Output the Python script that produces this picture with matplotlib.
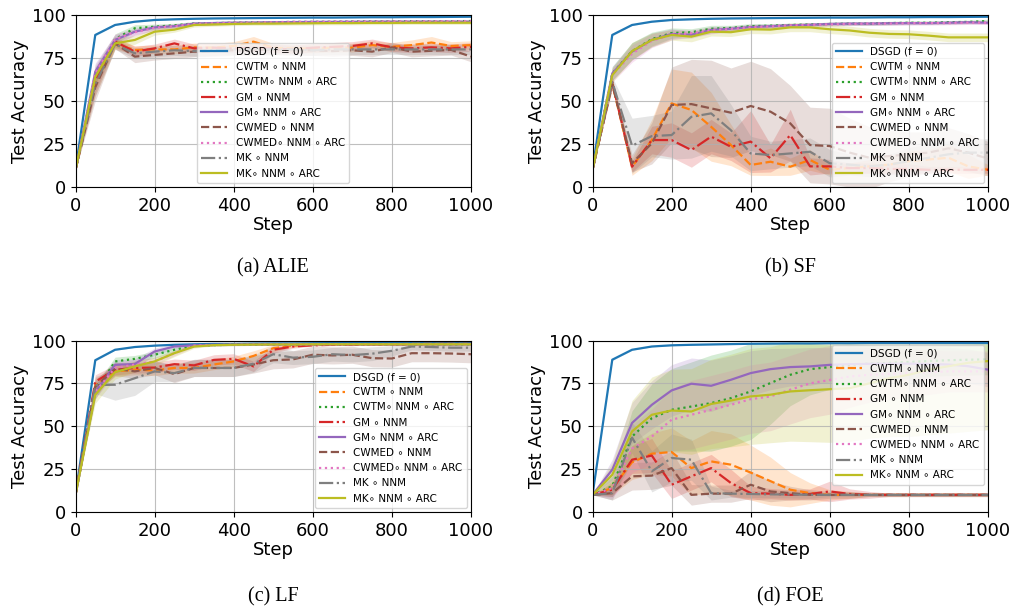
import matplotlib
matplotlib.use("Agg")
import matplotlib.pyplot as plt

STEPS = [0, 50, 100, 150, 200, 250, 300, 350, 400, 450, 500,
         550, 600, 650, 700, 750, 800, 850, 900, 950, 1000]

LABELS = ["DSGD (f = 0)", "CWTM \u2218 NNM", "CWTM\u2218 NNM \u2218 ARC", "GM \u2218 NNM",
          "GM\u2218 NNM \u2218 ARC", "CWMED \u2218 NNM", "CWMED\u2218 NNM \u2218 ARC",
          "MK \u2218 NNM", "MK\u2218 NNM \u2218 ARC"]
COLORS = ["#1f77b4", "#ff7f0e", "#2ca02c", "#d62728", "#9467bd",
          "#8c564b", "#e377c2", "#7f7f7f", "#bcbd22"]
STYLES = ["-", "--", ":", "-.", "-", "--", ":", "-.", "-"]
CAPTIONS = ["(a) ALIE", "(b) SF", "(c) LF", "(d) FOE"]

# ---------------- (a) ALIE ----------------
ALIE_DSGD = [10, 88.4, 94.2, 96.1, 97.1, 97.5, 97.8, 98, 98.1, 98.2, 98.3, 98.4, 98.5, 98.5, 98.6, 98.7, 98.7, 98.8, 98.8, 98.9, 99]
ALIE_CWTM = [10, 60, 83, 79.7, 80, 80, 81.2, 81, 82, 84.5, 81, 80.5, 80.5, 81, 81, 82.5, 81.5, 82.5, 84, 82, 82.5]
ALIE_CWTM_ARC = [10, 65, 86, 92.3, 93.2, 94, 95.1, 95.3, 95.5, 95.7, 95.8, 96, 96, 96.1, 96.2, 96.3, 96.3, 96.4, 96.4, 96.4, 96.5]
ALIE_GM = [10, 62, 84.5, 78.7, 80.6, 83.5, 80.6, 81, 80.5, 81, 80.5, 80, 81, 81.5, 82, 83.5, 81.2, 80.6, 81.2, 80.6, 81.5]
ALIE_GM_ARC = [10, 67, 85.5, 90.3, 92.8, 93.5, 95, 95.3, 95.5, 95.6, 95.8, 95.9, 96, 96, 96, 96.1, 96.1, 96.1, 96.1, 96.1, 96.1]
ALIE_CWMED = [10, 58, 83.5, 75.8, 76.8, 77.7, 78.7, 79, 79.5, 79.5, 80, 79.5, 79.5, 79, 79.5, 78.7, 81.2, 78.7, 79.2, 79.7, 75.8]
ALIE_CWMED_ARC = [10, 66, 86, 90, 92.5, 93.5, 94.8, 95.2, 95.5, 95.6, 95.8, 96, 96, 96.1, 96.2, 96.2, 96.3, 96.3, 96.4, 96.4, 96.4]
ALIE_MK = [10, 60, 83, 77.7, 78.7, 79.5, 79, 79.5, 80, 80, 80, 80, 79.5, 80, 80, 80, 80, 80, 80, 80, 80]
ALIE_MK_ARC = [10, 64, 83.5, 85.5, 90.3, 91.5, 94.2, 94.5, 94.8, 95, 95, 95.1, 95.2, 95.3, 95.3, 95.4, 95.4, 95.5, 95.5, 95.5, 95.5]
ALIE_DSGD_SD = [0, 0.5, 0.3, 0.2, 0.2, 0.2, 0.2, 0.2, 0.2, 0.2, 0.2, 0.2, 0.2, 0.2, 0.2, 0.2, 0.2, 0.2, 0.2, 0.2, 0.2]
ALIE_CWTM_SD = [0, 7, 3, 2.5, 2.5, 2.5, 2.5, 2.5, 2.5, 3, 2.5, 2.5, 2.5, 2.5, 2.5, 2.5, 2.5, 3, 3.5, 2.5, 2.5]
ALIE_CWTM_ARC_SD = [0, 5, 3, 2, 1.5, 1.2, 1, 1, 1, 0.8, 0.8, 0.8, 0.8, 0.8, 0.8, 0.8, 0.8, 0.8, 0.8, 0.8, 0.8]
ALIE_GM_SD = [0, 7, 3, 3, 2.5, 2.5, 2.5, 2.5, 2.5, 2.5, 2.5, 2.5, 2.5, 2.5, 2.5, 2.5, 2.5, 2.5, 2.5, 2.5, 2.5]
ALIE_GM_ARC_SD = [0, 5, 3, 2, 1.5, 1.2, 1, 1, 1, 0.8, 0.8, 0.8, 0.8, 0.8, 0.8, 0.8, 0.8, 0.8, 0.8, 0.8, 0.8]
ALIE_CWMED_SD = [0, 8, 3, 3.5, 3, 3, 3, 3, 3, 3, 3, 3, 3, 3, 3, 3, 3, 3, 3, 3, 3]
ALIE_CWMED_ARC_SD = [0, 5, 3, 2, 1.5, 1.2, 1, 1, 1, 0.8, 0.8, 0.8, 0.8, 0.8, 0.8, 0.8, 0.8, 0.8, 0.8, 0.8, 0.8]
ALIE_MK_SD = [0, 7, 3, 3, 3, 3, 3, 3, 3, 3, 3, 3, 3, 3, 3, 3, 3, 3, 3, 3, 3]
ALIE_MK_ARC_SD = [0, 5, 3, 2.5, 2, 1.5, 1.2, 1, 1, 1, 1, 1, 1, 1, 1, 1, 1, 1, 1, 1, 1]

# ---------------- (b) SF ----------------
SF_DSGD = [10, 88.4, 94.2, 96.1, 97.1, 97.5, 97.8, 98, 98.1, 98.2, 98.3, 98.4, 98.5, 98.5, 98.6, 98.7, 98.7, 98.8, 98.8, 98.9, 99]
SF_CWTM = [10, 60, 11.8, 27.3, 48.6, 44.8, 35, 24.4, 12.8, 14.7, 11.8, 15.7, 10, 11, 12, 13, 15, 16, 17, 12, 10]
SF_CWTM_ARC = [10, 66, 79, 86, 89.5, 90, 92, 92.5, 93.5, 93.8, 94.2, 94.5, 94.8, 95, 95, 95.3, 95.5, 95.5, 95.8, 96, 96.5]
SF_GM = [10, 61, 11.8, 27.3, 27.3, 21.5, 29.3, 23.4, 26.4, 16.7, 30.2, 12, 12, 11, 11, 10.5, 10.5, 10, 10, 10, 10]
SF_GM_ARC = [10, 66, 78.7, 85.5, 89, 88.5, 91.3, 92, 93, 93.5, 94, 94.3, 94.8, 95, 95, 95.2, 95.3, 95.3, 95.5, 95.8, 95.5]
SF_CWMED = [10, 60, 13.8, 25.4, 47.7, 48.2, 45.7, 43.2, 47.1, 43.8, 37, 24.4, 23.8, 20, 17, 18, 19, 20, 22.5, 20, 16.5]
SF_CWMED_ARC = [10, 65, 77.5, 85, 88.5, 89.5, 91, 91.8, 92.8, 93.3, 94, 94.3, 94.5, 94.8, 95, 95, 95.2, 95.3, 95.3, 95.5, 95.5]
SF_MK = [10, 61, 24, 29.6, 30.2, 40.8, 42.8, 33, 19.5, 18.6, 19.5, 20.5, 13.8, 13, 12, 13, 15, 17, 19, 20, 20]
SF_MK_ARC = [10, 65, 79, 85.5, 88.4, 87.4, 90.3, 90, 91.7, 91.5, 92.8, 92.8, 91.7, 91, 89.7, 89, 88.8, 88, 87, 87, 87]
SF_DSGD_SD = [0, 0.5, 0.3, 0.2, 0.2, 0.2, 0.2, 0.2, 0.2, 0.2, 0.2, 0.2, 0.2, 0.2, 0.2, 0.2, 0.2, 0.2, 0.2, 0.2, 0.2]
SF_CWTM_SD = [0, 3, 5, 12, 20, 22, 20, 12, 6, 8, 5, 6, 3, 3, 4, 5, 6, 6, 8, 7, 3]
SF_CWTM_ARC_SD = [0, 4, 5, 4, 3, 2, 2, 1.5, 1.5, 1.2, 1, 1, 1, 1, 1, 1, 1, 1, 1, 1, 1]
SF_GM_SD = [0, 3, 3, 8, 10, 10, 10, 8, 18, 8, 15, 5, 4, 3, 3, 3, 3, 2, 2, 2, 2]
SF_GM_ARC_SD = [0, 4, 5, 4, 3, 2, 2, 1.5, 1.5, 1.2, 1, 1, 1, 1, 1, 1, 1, 1, 1, 1, 1]
SF_CWMED_SD = [0, 3, 5, 12, 22, 26, 28, 26, 26, 25, 22, 22, 22, 20, 18, 15, 13, 12, 12, 11, 10]
SF_CWMED_ARC_SD = [0, 4, 5, 4, 3, 2, 2, 1.5, 1.5, 1.2, 1, 1, 1, 1, 1, 1, 1, 1, 1, 1, 1]
SF_MK_SD = [0, 3, 16, 12, 14, 24, 22, 15, 10, 8, 8, 8, 8, 6, 6, 6, 8, 8, 8, 8, 8]
SF_MK_ARC_SD = [0, 4, 5, 4, 3, 3, 2.5, 2.5, 2.5, 2.5, 2.5, 2.5, 2.5, 2.5, 2.5, 2.5, 2.5, 2.5, 2.5, 2.5, 2.5]

# ---------------- (c) LF ----------------
LF_DSGD = [10, 88.5, 94.6, 96.2, 97, 97.5, 97.8, 98, 98, 98.2, 98.3, 98.3, 98.4, 98.5, 98.5, 98.5, 98.5, 98.6, 98.6, 98.6, 98.6]
LF_CWTM = [10, 74, 82, 83, 82.5, 84, 84, 86, 87.8, 91, 95.5, 97, 97.5, 97.5, 97.8, 97.8, 97.8, 98, 98, 98, 98]
LF_CWTM_ARC = [10, 70, 87.8, 89.3, 91.7, 94.6, 97, 97.3, 97.5, 97.6, 97.7, 97.7, 97.8, 97.8, 97.8, 97.8, 97.8, 97.8, 97.8, 97.8, 97.8]
LF_GM = [10, 76, 82.9, 84, 84.2, 86.2, 85.5, 88.7, 89.3, 84.9, 94.6, 96.5, 97.2, 97.5, 97.5, 97.8, 97.8, 97.8, 98, 98, 98]
LF_GM_ARC = [10, 70, 85.8, 86.3, 93.6, 96.5, 97.2, 97.5, 97.6, 97.7, 97.7, 97.8, 97.8, 97.8, 97.8, 97.8, 97.8, 97.8, 97.8, 97.8, 97.8]
LF_CWMED = [10, 73, 83.5, 82, 84, 80.4, 84, 84, 84, 86, 88.5, 89, 91.7, 91.3, 91.7, 89.7, 89.5, 92.6, 92.6, 92.4, 92]
LF_CWMED_ARC = [10, 70, 84, 86, 87.8, 92.6, 97, 97.3, 97.5, 97.6, 97.7, 97.7, 97.8, 97.8, 97.8, 97.8, 97.8, 97.8, 97.8, 97.8, 97.8]
LF_MK = [10, 74, 74.2, 78, 82, 81, 84, 84, 84, 86.5, 92, 90, 90.5, 92, 91.5, 92.3, 94, 96.5, 96.2, 95.8, 95.8]
LF_MK_ARC = [10, 68.4, 81.5, 84.9, 87.8, 92.6, 96.5, 97.3, 97.5, 97.6, 97.7, 97.7, 97.8, 97.8, 97.8, 97.8, 97.8, 97.8, 97.8, 97.8, 97.8]
LF_DSGD_SD = [0, 0.5, 0.3, 0.2, 0.2, 0.2, 0.2, 0.2, 0.2, 0.2, 0.2, 0.2, 0.2, 0.2, 0.2, 0.2, 0.2, 0.2, 0.2, 0.2, 0.2]
LF_CWTM_SD = [0, 4, 3, 3, 3, 3, 3, 3, 3, 3, 2, 1, 0.5, 0.5, 0.5, 0.5, 0.5, 0.5, 0.5, 0.5, 0.5]
LF_CWTM_ARC_SD = [0, 4, 2.5, 2, 2, 1.5, 0.8, 0.5, 0.5, 0.5, 0.5, 0.5, 0.5, 0.5, 0.5, 0.5, 0.5, 0.5, 0.5, 0.5, 0.5]
LF_GM_SD = [0, 4, 3, 3, 3, 3, 3, 3, 3, 3, 2, 1, 0.5, 0.5, 0.5, 0.5, 0.5, 0.5, 0.5, 0.5, 0.5]
LF_GM_ARC_SD = [0, 4, 3, 3, 2, 1.5, 0.8, 0.5, 0.5, 0.5, 0.5, 0.5, 0.5, 0.5, 0.5, 0.5, 0.5, 0.5, 0.5, 0.5, 0.5]
LF_CWMED_SD = [0, 4, 4, 4, 4, 5, 5, 5, 5, 5, 5, 5, 5, 5, 5, 5, 5, 5, 5, 5, 5]
LF_CWMED_ARC_SD = [0, 4, 3, 3, 2, 1.5, 0.8, 0.5, 0.5, 0.5, 0.5, 0.5, 0.5, 0.5, 0.5, 0.5, 0.5, 0.5, 0.5, 0.5, 0.5]
LF_MK_SD = [0, 5, 9, 10, 6, 5, 5, 5, 5, 5, 5, 4, 4, 4, 4, 4, 3, 2, 2, 2, 2]
LF_MK_ARC_SD = [0, 5, 4, 3, 2.5, 2, 1, 0.5, 0.5, 0.5, 0.5, 0.5, 0.5, 0.5, 0.5, 0.5, 0.5, 0.5, 0.5, 0.5, 0.5]

# ---------------- (d) FOE ----------------
FOE_DSGD = [10, 88.8, 94.6, 96.5, 97.2, 97.5, 97.7, 97.9, 98.1, 98.2, 98.3, 98.3, 98.4, 98.4, 98.5, 98.5, 98.5, 98.5, 98.5, 98.5, 98.5]
FOE_CWTM = [10, 14, 29, 34, 35, 25.6, 29.5, 27.6, 23, 18, 13, 11, 10, 10, 10, 10, 10, 10, 10, 10, 10]
FOE_CWTM_ARC = [10, 15, 44, 54.7, 59.6, 61.5, 63.5, 66.4, 70.3, 75.2, 80, 83.3, 84.5, 85.8, 86.5, 87, 87.5, 88, 88.5, 88.8, 89]
FOE_GM = [10, 13, 30.5, 32.9, 15.9, 20.8, 25.6, 16.9, 11, 10.7, 10, 10.5, 12, 10.5, 10, 10, 10, 10, 10, 10, 10]
FOE_GM_ARC = [10, 24.7, 51.9, 62.5, 70.9, 74.8, 73.6, 77.1, 81, 83.3, 84.5, 84.9, 85.8, 86.2, 86.4, 86.5, 86.5, 86.3, 86, 85, 83]
FOE_CWMED = [10, 11, 20.8, 21.2, 25.6, 10, 10.7, 10.7, 15.9, 12, 11, 10, 10, 10, 10, 10, 10, 10, 10, 10, 10]
FOE_CWMED_ARC = [10, 14, 37, 44, 53.8, 56.7, 59.6, 62.5, 65.8, 67.4, 71.3, 75, 77, 79, 80, 80.5, 81, 81.5, 82, 82, 82]
FOE_MK = [10, 11, 43.4, 23.7, 31.5, 30.5, 11, 10.7, 10.5, 10.3, 10.2, 10, 10, 10, 10, 10, 10, 10, 10, 10, 10]
FOE_MK_ARC = [10, 21.7, 47, 56.7, 59.2, 58.6, 63, 65, 67.4, 68.4, 70.3, 71, 71.6, 72.2, 75, 78, 80, 83, 85, 87, 88]
FOE_DSGD_SD = [0, 0.5, 0.3, 0.2, 0.2, 0.2, 0.2, 0.2, 0.2, 0.2, 0.2, 0.2, 0.2, 0.2, 0.2, 0.2, 0.2, 0.2, 0.2, 0.2, 0.2]
FOE_CWTM_SD = [0, 4, 10, 12, 14, 16, 18, 18, 16, 14, 10, 6, 3, 2, 1, 1, 1, 1, 1, 1, 1]
FOE_CWTM_ARC_SD = [0, 6, 15, 20, 24, 26, 28, 28, 28, 24, 18, 15, 13, 12, 11, 10, 10, 9, 9, 9, 9]
FOE_GM_SD = [0, 4, 8, 10, 8, 8, 8, 8, 4, 3, 3, 3, 6, 3, 2, 1, 1, 1, 1, 1, 1]
FOE_GM_ARC_SD = [0, 6, 12, 14, 15, 15, 15, 14, 13, 12, 11, 11, 10, 10, 10, 10, 10, 10, 10, 10, 10]
FOE_CWMED_SD = [0, 4, 8, 8, 10, 6, 5, 5, 8, 6, 4, 3, 2, 2, 1, 1, 1, 1, 1, 1, 1]
FOE_CWMED_ARC_SD = [0, 6, 14, 16, 18, 20, 20, 20, 20, 20, 20, 20, 20, 18, 16, 15, 14, 13, 12, 12, 12]
FOE_MK_SD = [0, 4, 9, 12, 14, 12, 4, 2, 2, 2, 2, 2, 1, 1, 1, 1, 1, 1, 1, 1, 1]
FOE_MK_ARC_SD = [0, 7, 18, 22, 24, 25, 26, 27, 28, 28, 29, 30, 31, 31, 32, 34, 36, 38, 39, 40, 40]

PANELS = [
    ([ALIE_DSGD, ALIE_CWTM, ALIE_CWTM_ARC, ALIE_GM, ALIE_GM_ARC, ALIE_CWMED, ALIE_CWMED_ARC, ALIE_MK, ALIE_MK_ARC],
     [ALIE_DSGD_SD, ALIE_CWTM_SD, ALIE_CWTM_ARC_SD, ALIE_GM_SD, ALIE_GM_ARC_SD, ALIE_CWMED_SD, ALIE_CWMED_ARC_SD, ALIE_MK_SD, ALIE_MK_ARC_SD],
     "lower center"),
    ([SF_DSGD, SF_CWTM, SF_CWTM_ARC, SF_GM, SF_GM_ARC, SF_CWMED, SF_CWMED_ARC, SF_MK, SF_MK_ARC],
     [SF_DSGD_SD, SF_CWTM_SD, SF_CWTM_ARC_SD, SF_GM_SD, SF_GM_ARC_SD, SF_CWMED_SD, SF_CWMED_ARC_SD, SF_MK_SD, SF_MK_ARC_SD],
     "lower right"),
    ([LF_DSGD, LF_CWTM, LF_CWTM_ARC, LF_GM, LF_GM_ARC, LF_CWMED, LF_CWMED_ARC, LF_MK, LF_MK_ARC],
     [LF_DSGD_SD, LF_CWTM_SD, LF_CWTM_ARC_SD, LF_GM_SD, LF_GM_ARC_SD, LF_CWMED_SD, LF_CWMED_ARC_SD, LF_MK_SD, LF_MK_ARC_SD],
     "lower right"),
    ([FOE_DSGD, FOE_CWTM, FOE_CWTM_ARC, FOE_GM, FOE_GM_ARC, FOE_CWMED, FOE_CWMED_ARC, FOE_MK, FOE_MK_ARC],
     [FOE_DSGD_SD, FOE_CWTM_SD, FOE_CWTM_ARC_SD, FOE_GM_SD, FOE_GM_ARC_SD, FOE_CWMED_SD, FOE_CWMED_ARC_SD, FOE_MK_SD, FOE_MK_ARC_SD],
     "upper right"),
]

W, H = 1015, 611
fig = plt.figure(figsize=(W / 100, H / 100), dpi=100)

# axes boxes in pixels: (left, top, right, bottom)
BOXES = [(75.5, 15, 471, 187), (592.5, 15, 988, 187),
         (75.5, 340.5, 471, 512), (592.5, 340.5, 988, 512)]
CAP_Y = [268, 268, 597, 597]

for i, (series, sds, loc) in enumerate(PANELS):
    l, t, r, b = BOXES[i]
    ax = fig.add_axes([l / W, 1 - b / H, (r - l) / W, (b - t) / H])
    for k in range(9):
        y = series[k]
        sd = sds[k]
        lo = [v - s for v, s in zip(y, sd)]
        hi = [v + s for v, s in zip(y, sd)]
        ax.fill_between(STEPS, lo, hi, color=COLORS[k], alpha=0.2, linewidth=0)
        ax.plot(STEPS, y, color=COLORS[k], linestyle=STYLES[k], linewidth=1.6, label=LABELS[k])
    ax.set_xlim(0, 1000)
    ax.set_ylim(0, 100)
    ax.set_xticks([0, 200, 400, 600, 800, 1000])
    ax.set_yticks([0, 25, 50, 75, 100])
    ax.tick_params(labelsize=13)
    ax.grid(True, color="#b0b0b0", linewidth=0.8, alpha=0.8)
    ax.set_xlabel("Step", fontsize=13, labelpad=1)
    ax.set_ylabel("Test Accuracy", fontsize=13, labelpad=2)
    leg = ax.legend(loc=loc, fontsize=7.5, handlelength=2.5, borderaxespad=0.4)
    fig.text(((l + r) / 2) / W, 1 - CAP_Y[i] / H, CAPTIONS[i], ha="center", va="center",
             fontsize=14.5, family="Liberation Serif")

fig.savefig("out.png", dpi=100)
